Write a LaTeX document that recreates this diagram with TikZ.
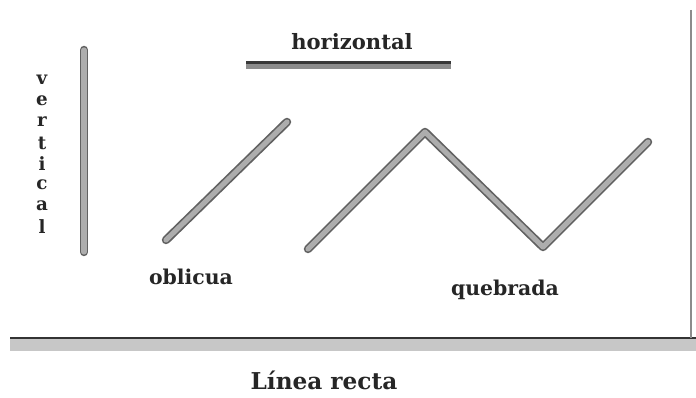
\documentclass[tikz,border=0pt]{standalone}
\usepackage{fontspec}
\setmainfont{DejaVu Serif}
\usetikzlibrary{positioning, calc}
\tikzset{
  bar/.style={line width=6pt, draw=black!62, line cap=round, line join=round},
  barin/.style={line width=3.6pt, draw=black!32, line cap=round, line join=round},
  lbl/.style={font=\bfseries\fontsize{14.5}{17}\selectfont, inner sep=0pt, text=black!85},
  vlet/.style={font=\bfseries\fontsize{13}{15}\selectfont, inner sep=0pt, text=black!85},
  frame/.style={line width=1.6pt, draw=black!80}
}

\begin{document}
\begin{tikzpicture}[x=0.025cm, y=-0.025cm]
  \useasboundingbox (0,0) rectangle (696,398);
  \fill[white] (0,0) rectangle (696,398);

  % points of the lines
  \coordinate (vt) at (84,50);
  \coordinate (vb) at (84,252);
  \coordinate (hl) at (246,65);
  \coordinate (hr) at (451,65);
  \coordinate (ob) at (166,240);
  \coordinate (ot) at (287,122);
  \coordinate (q1) at (308,249);
  \coordinate (q2) at (425,132);
  \coordinate (q3) at (543,247);
  \coordinate (q4) at (648,142);

  % frame
  \fill[black!22] (10,339) rectangle (696,351);
  \draw[frame] (10,338) -- (696,338);
  \draw[line width=1.2pt, draw=black!45] (691,10) -- (691,338);

  % the lines
  \draw[bar] (vt) -- (vb);
  \draw[barin] (vt) -- (vb);
  \draw[bar, draw=black!78, line cap=butt] (hl) -- (hr);
  \draw[barin, draw=black!45, line cap=butt] ($(hl)+(0,1.5)$) -- ($(hr)+(0,1.5)$);
  \draw[bar] (ob) -- (ot);
  \draw[barin] (ob) -- (ot);
  \draw[bar] (q1) -- (q2) -- (q3) -- (q4);
  \draw[barin] (q1) -- (q2) -- (q3) -- (q4);

  % labels
  \node[lbl, font=\bfseries\fontsize{15}{18}\selectfont] (horiz) at (352,42) {horizontal};
  \foreach \c [count=\i] in {v,e,r,t,i,c,a,l}
    \node[vlet] (v\i) at (42,59+21*\i) {\c};
  \node[lbl] (obl) at (191,277) {oblicua};
  \node[lbl] (queb) at (505,290) {quebrada};
  \node[lbl, font=\bfseries\fontsize{16.5}{20}\selectfont] (title) at (324,380) {Línea recta};
\end{tikzpicture}
\end{document}
